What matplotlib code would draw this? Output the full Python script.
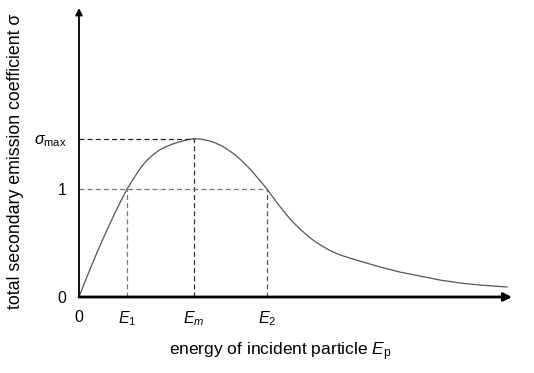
import matplotlib
matplotlib.use("Agg")
import matplotlib.pyplot as plt

plt.rcParams['font.family'] = ['Liberation Sans', 'DejaVu Sans']
plt.rcParams['mathtext.fontset'] = 'custom'
plt.rcParams['mathtext.rm'] = 'Liberation Sans'
plt.rcParams['mathtext.it'] = 'Liberation Sans:italic'

# Curve data (arbitrary energy units, sigma)
energy = [0, 0.6, 1.2, 1.8, 2.4, 3.0, 3.6, 4.2, 4.8, 5.45, 6.1, 6.75, 7.4, 8.1, 8.8,
          9.5, 10.1, 10.8, 11.5, 12.2, 12.9, 13.6, 14.3, 14.9, 15.6, 16.2, 16.9, 17.5,
          18.1, 18.8, 19.5, 20.1, 20.7, 21.3, 22.1, 22.9, 23.6, 24.4, 25.1, 25.9, 26.6,
          27.4, 28.1, 29.1, 30.1, 31.1, 32.1, 33.1, 34.1, 35.1, 36.1, 37.1, 38.1, 39.1,
          40.1, 41.4, 42.8]
sigma = [0, 0.142, 0.280, 0.412, 0.539, 0.662, 0.780, 0.893, 1.0, 1.097, 1.190, 1.264,
         1.319, 1.366, 1.398, 1.423, 1.440, 1.458, 1.468, 1.464, 1.451, 1.430, 1.400,
         1.366, 1.319, 1.270, 1.206, 1.144, 1.079, 1.0, 0.912, 0.838, 0.769, 0.704,
         0.630, 0.565, 0.514, 0.468, 0.431, 0.398, 0.375, 0.352, 0.333, 0.306, 0.278,
         0.255, 0.231, 0.213, 0.194, 0.176, 0.157, 0.144, 0.130, 0.120, 0.111, 0.102,
         0.093]

E1, Em, E2 = 4.8, 11.5, 18.8
sigma_max = 1.468
x_max, y_max = 43.3, 2.68

x_tick_vals = [0, E1, Em, E2]
x_tick_labels = ['0', r'$E_1$', r'$E_m$', r'$E_2$']
y_tick_vals = [0, 1, sigma_max]
y_tick_labels = ['0', '1', r'$\sigma_{\rm max}$']

W, H = 534, 373
fig = plt.figure(figsize=(W / 100, H / 100), dpi=100)
ax = fig.add_axes([79 / W, (H - 297) / H, (512 - 79) / W, (297 - 8) / H])
ax.set_xlim(0, x_max)
ax.set_ylim(0, y_max)

ax.plot(energy, sigma, color='#555555', lw=0.9, clip_on=False)

dash = dict(ls=(0, (4, 2.5)), lw=0.9)
ax.plot([0, Em], [sigma_max, sigma_max], color='#222222', **dash)
ax.plot([Em, Em], [0, sigma_max], color='#333333', **dash)
ax.plot([0, E2], [1, 1], color='#777777', **dash)
ax.plot([E1, E1], [0, 1], color='#777777', **dash)
ax.plot([E2, E2], [0, 1], color='#555555', **dash)

for s in ax.spines.values():
    s.set_visible(False)

# axis arrows
ax.annotate('', xy=(1.0, 0), xytext=(0, 0), xycoords='axes fraction',
            arrowprops=dict(arrowstyle='-|>', color='black', lw=2.0,
                            mutation_scale=12, shrinkA=0, shrinkB=0))
ax.annotate('', xy=(0, 1.0), xytext=(0, 0), xycoords='axes fraction',
            arrowprops=dict(arrowstyle='-|>', color='black', lw=1.3,
                            mutation_scale=10, shrinkA=0, shrinkB=0))

ax.set_xticks(x_tick_vals)
ax.set_xticklabels(x_tick_labels)
ax.set_yticks(y_tick_vals)
ax.set_yticklabels(y_tick_labels)
ax.tick_params(axis='both', length=0, labelsize=11.5, colors='black')
ax.tick_params(axis='x', pad=9)
ax.tick_params(axis='y', pad=9)

fig.text(280 / W, (H - 352) / H, r'energy of incident particle $E_{\rm p}$',
         ha='center', va='center', fontsize=12.5)
fig.text(16 / W, (H - 161) / H, r'total secondary emission coefficient σ',
         ha='center', va='center', rotation=90, fontsize=12.8)

fig.savefig('out.png', dpi=100)
